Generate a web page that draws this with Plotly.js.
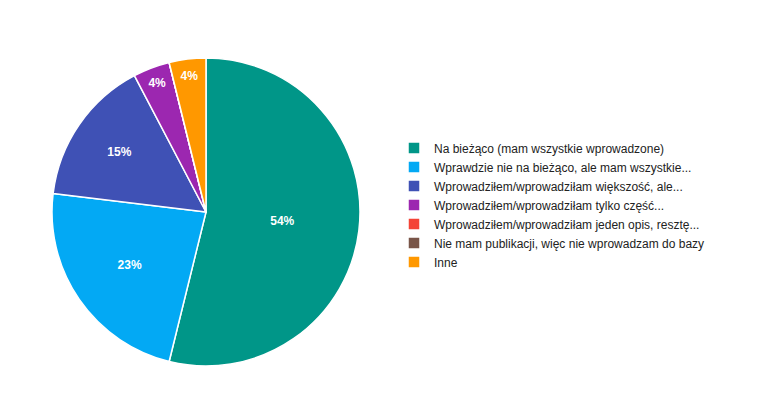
<!DOCTYPE html>
<html>
<head>
<meta charset="utf-8">
<script src="https://cdn.plot.ly/plotly-3.0.1.min.js"></script>
<style>html,body{margin:0;padding:0;background:#fff;}#chart{width:759px;height:419px;}</style>
</head>
<body>
<div id="chart"></div>
<script>
const labels = [
  "Na bieżąco (mam wszystkie wprowadzone)",
  "Wprawdzie nie na bieżąco, ale mam wszystkie...",
  "Wprowadziłem/wprowadziłam większość, ale...",
  "Wprowadziłem/wprowadziłam tylko część...",
  "Wprowadziłem/wprowadziłam jeden opis, resztę...",
  "Nie mam publikacji, więc nie wprowadzam do bazy",
  "Inne"
];
const counts = [14, 6, 4, 1, 0, 0, 1];
const colors = ["#009688", "#03a9f4", "#3f51b5", "#9c27b0", "#f44336", "#795548", "#ff9800"];

const templates = counts.map(v => v > 0 ? "%{percent:.0%}" : "");

const data = [{
  type: "pie",
  labels: labels,
  values: counts,
  sort: false,
  direction: "clockwise",
  rotation: 0,
  marker: {colors: colors, line: {color: "#ffffff", width: 1.5}},
  texttemplate: templates,
  textposition: "inside",
  insidetextorientation: "horizontal",
  textfont: {family: "Liberation Sans, Arial, sans-serif", size: 12, color: "#ffffff", weight: "bold"},
  hoverinfo: "label+percent",
  domain: {x: [52/759, 360/759], y: [(419-366)/419, (419-58)/419]}
}];

const layout = {
  width: 759,
  height: 419,
  margin: {l: 0, r: 0, t: 0, b: 0},
  paper_bgcolor: "#ffffff",
  showlegend: true,
  legend: {
    x: 394/759, xanchor: "left",
    y: 1 - 205/419, yanchor: "middle",
    font: {family: "Liberation Sans, Arial, sans-serif", size: 12, color: "#222222"},
    bgcolor: "rgba(0,0,0,0)"
  }
};

Plotly.newPlot("chart", data, layout, {displayModeBar: false, staticPlot: true});
</script>
</body>
</html>
